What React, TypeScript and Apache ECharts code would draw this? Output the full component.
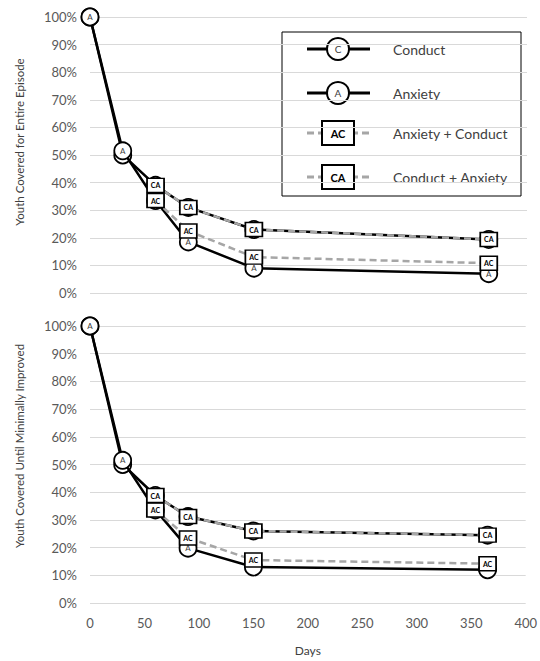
import React, { useEffect, useRef } from "react";
import * as echarts from "echarts";

const days = [0, 30, 60, 90, 150, 365];
const comboDays = [60, 90, 150, 365];
const xTicks = [0, 50, 100, 150, 200, 250, 300, 350, 400];

// Top panel: Youth Covered for Entire Episode (%)
const topConduct = [100, 50, 39, 31, 23, 19.4];
const topAnxiety = [100, 51.5, 33.5, 18.5, 9, 7];
const topAC = [33.5, 22.5, 13, 10.8];
const topCA = [39, 31, 23, 19.4];

// Bottom panel: Youth Covered Until Minimally Improved (%)
const botConduct = [100, 50, 38.8, 31.2, 26, 24.5];
const botAnxiety = [100, 51.5, 33.6, 19.8, 13, 12];
const botAC = [33.6, 23.5, 15.5, 14.2];
const botCA = [38.8, 31.2, 26, 24.5];

const legendNames = ["Conduct", "Anxiety", "Anxiety + Conduct", "Conduct + Anxiety"];
const markerTexts = ["C", "A", "AC", "CA"];

const FONT = "Lato, 'Open Sans', sans-serif";
const GRAY = "#a6a6a6";

// points whose marker label is covered by another marker (label not visible)
function pairs(xs: number[], ys: number[], hiddenLabelAt: number[] = []) {
  return xs.map((x, i) =>
    hiddenLabelAt.includes(x)
      ? { value: [x, ys[i]], label: { show: false } }
      : { value: [x, ys[i]] }
  );
}

function circleSeries(idx: number, name: string, text: string, data: any[], z: number, showLabel = true) {
  return {
    type: "line",
    name,
    xAxisIndex: idx,
    yAxisIndex: idx,
    data,
    z,
    symbol: "circle",
    symbolSize: 17,
    showAllSymbol: true,
    lineStyle: { color: "#000", width: 2.5 },
    itemStyle: { color: "#fff", borderColor: "#000", borderWidth: 1.8 },
    label: {
      show: showLabel,
      position: "inside",
      formatter: text,
      fontSize: 8,
      color: "#404040",
      fontFamily: FONT,
    },
    emphasis: { disabled: true },
  };
}

function boxSeries(idx: number, name: string, text: string, data: any[], z: number) {
  return {
    type: "line",
    name,
    xAxisIndex: idx,
    yAxisIndex: idx,
    data,
    z,
    symbol: "rect",
    symbolSize: [17, 14],
    showAllSymbol: true,
    lineStyle: { color: GRAY, width: 2.5, type: [7, 4] },
    itemStyle: { color: "#fff", borderColor: "#000", borderWidth: 1.6 },
    label: {
      show: true,
      position: "inside",
      formatter: text,
      fontSize: 7,
      fontWeight: "bold",
      color: "#000",
      fontFamily: FONT,
    },
    emphasis: { disabled: true },
  };
}

function legendGraphic() {
  const left = 282;
  const top = 32;
  const rowsY = [49, 93, 133, 177];
  const children: any[] = [
    {
      type: "rect",
      shape: { x: left, y: top, width: 239, height: 164 },
      style: { fill: "#fff", stroke: "#000", lineWidth: 1 },
    },
  ];
  rowsY.forEach((y, i) => {
    const isCircle = i < 2;
    children.push({
      type: "line",
      shape: { x1: 307, y1: y, x2: 370, y2: y },
      style: isCircle
        ? { stroke: "#000", lineWidth: 3 }
        : { stroke: GRAY, lineWidth: 3, lineDash: [7, 4] },
    });
    if (isCircle) {
      children.push({
        type: "circle",
        shape: { cx: 338, cy: y, r: 11 },
        style: { fill: "#fff", stroke: "#000", lineWidth: 2 },
      });
      children.push({
        type: "text",
        x: 338,
        y: y,
        style: {
          text: markerTexts[i],
          fontSize: 10,
          fill: "#404040",
          fontFamily: FONT,
          align: "center",
          verticalAlign: "middle",
        },
      });
    } else {
      children.push({
        type: "rect",
        shape: { x: 322, y: y - 12, width: 32, height: 24 },
        style: { fill: "#fff", stroke: "#000", lineWidth: 2 },
      });
      children.push({
        type: "text",
        x: 338,
        y: y,
        style: {
          text: markerTexts[i],
          fontSize: 11,
          fontWeight: "bold",
          fill: "#000",
          fontFamily: FONT,
          align: "center",
          verticalAlign: "middle",
        },
      });
    }
    children.push({
      type: "text",
      x: 393,
      y: y,
      style: {
        text: legendNames[i],
        fontSize: 14,
        fill: "#404040",
        fontFamily: FONT,
        align: "left",
        verticalAlign: "middle",
      },
    });
  });
  return { type: "group", z: 100, children };
}

export default function App() {
  const ref = useRef<HTMLDivElement>(null);
  useEffect(() => {
    document.body.style.margin = "0";
    if (!ref.current) return;
    const chart = echarts.init(ref.current, undefined, { renderer: "svg" });
    const xAxisBase = {
      type: "value",
      min: 0,
      max: 400,
      interval: 50,
      axisLine: { show: false },
      axisTick: { show: false },
      splitLine: { show: false },
    };
    const yAxisBase = {
      type: "value",
      min: 0,
      max: 100,
      interval: 10,
      axisLine: { show: false },
      axisTick: { show: false },
      splitLine: { show: true, lineStyle: { color: "#d9d9d9", width: 1 } },
      axisLabel: {
        formatter: "{value}%",
        fontSize: 13,
        color: "#595959",
        fontFamily: FONT,
        margin: 13,
      },
    };
    chart.setOption({
      animation: false,
      backgroundColor: "#fff",
      grid: [
        { left: 90, right: 13, top: 17, height: 276 },
        { left: 90, right: 13, top: 326, height: 277 },
      ],
      xAxis: [
        { ...xAxisBase, gridIndex: 0, axisLabel: { show: false } },
        {
          ...xAxisBase,
          gridIndex: 1,
          axisLabel: {
            fontSize: 13,
            color: "#595959",
            fontFamily: FONT,
            margin: 13,
            customValues: xTicks,
          },
          name: "Days",
          nameLocation: "middle",
          nameGap: 41,
          nameTextStyle: { fontSize: 12, color: "#404040", fontFamily: FONT },
        },
      ],
      yAxis: [
        { ...yAxisBase, gridIndex: 0 },
        { ...yAxisBase, gridIndex: 1 },
      ],
      graphic: [
        {
          type: "text",
          x: 19,
          y: 142,
          rotation: Math.PI / 2,
          style: {
            text: "Youth Covered for Entire Episode",
            fontSize: 11.5,
            fill: "#404040",
            fontFamily: FONT,
            align: "center",
            verticalAlign: "middle",
          },
        },
        {
          type: "text",
          x: 19,
          y: 446,
          rotation: Math.PI / 2,
          style: {
            text: "Youth Covered Until Minimally Improved",
            fontSize: 11.5,
            fill: "#404040",
            fontFamily: FONT,
            align: "center",
            verticalAlign: "middle",
          },
        },
        legendGraphic(),
      ],
      series: [
        circleSeries(0, legendNames[0], markerTexts[0], pairs(days, topConduct), 2, false),
        circleSeries(0, legendNames[1], markerTexts[1], pairs(days, topAnxiety, [60]), 3),
        boxSeries(0, legendNames[2], markerTexts[2], pairs(comboDays, topAC), 4),
        boxSeries(0, legendNames[3], markerTexts[3], pairs(comboDays, topCA), 5),
        circleSeries(1, legendNames[0], markerTexts[0], pairs(days, botConduct), 2, false),
        circleSeries(1, legendNames[1], markerTexts[1], pairs(days, botAnxiety, [60, 150, 365]), 3),
        boxSeries(1, legendNames[2], markerTexts[2], pairs(comboDays, botAC), 4),
        boxSeries(1, legendNames[3], markerTexts[3], pairs(comboDays, botCA), 5),
      ],
    });
    return () => chart.dispose();
  }, []);
  return <div ref={ref} style={{ width: 540, height: 661 }} />;
}
